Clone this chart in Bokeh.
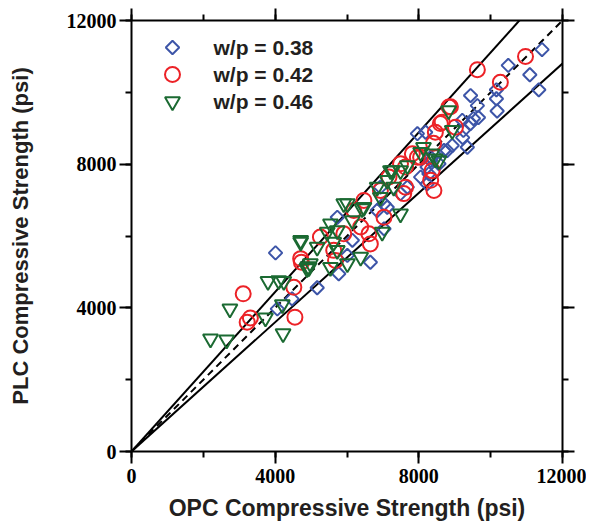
import math
from bokeh.plotting import figure
from bokeh.models import Range1d, LinearAxis, SingleIntervalTicker, Label
from bokeh.embed import file_html
from bokeh.resources import INLINE

# ---- data (psi) ----
blue_x = [11430, 10490, 11090, 11340, 9440, 10160, 10160, 10180, 9660, 9520, 9440, 9210,
          9240, 9220, 9350, 9630, 8930, 8790, 8560, 8330, 8280, 8190, 8050, 8230, 7960,
          8330, 8700, 8230, 7680, 7490, 7030, 6840, 5730, 6150, 6010, 5770, 4010, 4060,
          4470, 5170, 6930, 7120, 7030, 6650]
blue_y = [11190, 10750, 10490, 10070, 9910, 10070, 9820, 9480, 9300, 9270, 9130, 9220,
          8940, 8740, 8470, 9630, 8520, 8380, 8010, 8100, 7730, 8890, 7640, 7450, 8850,
          8190, 8380, 7920, 7360, 7180, 6900, 6710, 6520, 5880, 5460, 4950, 5530, 3970,
          4250, 4560, 7360, 6800, 6200, 5270]

red_x = [10970, 9630, 10270, 8880, 8600, 9020, 8410, 8650, 8460, 7820, 8050, 7490, 8370,
         8330, 8420, 7630, 7580, 7960, 7630, 7170, 6930, 6470, 6190, 6380, 6610, 5910,
         5630, 5680, 5260, 4710, 6650, 7030, 3110, 3220, 3310, 4550, 4520, 4730, 8840]
red_y = [11000, 10630, 10280, 9600, 9130, 9030, 8580, 9170, 8890, 8290, 8190, 8010, 7820,
         7550, 7270, 7360, 7180, 8190, 7920, 7640, 7270, 6990, 6710, 6250, 6060, 6060,
         5600, 5320, 5970, 5370, 5780, 6520, 4390, 3600, 3720, 3740, 4570, 5270, 9590]

green_x = [8830, 8930, 8130, 8460, 8050, 7260, 7490, 7680, 7120, 7300, 8370, 8560, 7210,
           6840, 6930, 7490, 5910, 6470, 5540, 5730, 4710, 5170, 4980, 5540, 6010, 6380,
           6010, 6420, 6150, 5630, 4710, 5730, 4890, 6980, 3800, 4100, 4240, 2740, 3730,
           4200, 4220, 2200, 2650, 4910, 4940, 5450]
green_y = [9490, 8940, 8470, 8150, 8330, 7820, 7820, 7960, 7550, 7360, 8290, 8100, 7820,
           7360, 7080, 6620, 6900, 6800, 6340, 6150, 5880, 5690, 5230, 5130, 5230, 5410,
           6900, 6760, 6430, 5830, 5830, 5600, 5090, 6110, 4740, 4760, 4740, 3970, 3720,
           4090, 3280, 3140, 3110, 5150, 5120, 6110]

series_labels = ["w/p = 0.38", "w/p = 0.42", "w/p = 0.46"]

# reference lines: equality and +/-10 % bounds
line_x = [0, 12000]
ratio_eq = 1.0
ratio_hi = 1 / 0.9
ratio_lo = 0.9

axis_ticks_interval = 4000
axis_max = 12000
tick_values = [0, 4000, 8000, 12000]

BLUE = "#3d55a8"
RED = "#ec2227"
GREEN = "#1b6a32"
TXT = "#231f20"

FW = 431
p = figure(frame_width=FW, frame_height=FW,
           min_border_left=131, min_border_right=24, min_border_top=20, min_border_bottom=68,
           x_range=Range1d(0, axis_max), y_range=Range1d(0, axis_max),
           output_backend="svg", toolbar_location=None,
           x_axis_label="OPC Compressive Strength (psi)",
           y_axis_label="PLC Compressive Strength (psi)")
p.grid.visible = False
p.outline_line_color = None
p.background_fill_color = "white"
p.border_fill_color = "white"

# extra axes for mirrored ticks
p.add_layout(LinearAxis(), "above")
p.add_layout(LinearAxis(), "right")

for ax in p.axis:
    ax.ticker = SingleIntervalTicker(interval=axis_ticks_interval, num_minor_ticks=2)
    ax.axis_line_width = 2
    ax.axis_line_color = "black"
    ax.major_tick_line_width = 2
    ax.minor_tick_line_width = 2
    ax.major_tick_in = 0
    ax.major_tick_out = 12
    ax.minor_tick_in = 0
    ax.minor_tick_out = 6
    ax.major_label_text_font = "Liberation Serif"
    ax.major_label_text_font_style = "bold"
    ax.major_label_text_font_size = "20px"
    ax.major_label_text_color = "black"
    ax.axis_label_text_font = "Liberation Sans"
    ax.axis_label_text_font_style = "bold"
    ax.axis_label_text_color = TXT

for ax in (p.above[0], p.right[0]):
    ax.major_label_overrides = {v: "" for v in tick_values}
    ax.major_label_text_font_size = "1px"
    ax.major_label_standoff = 0

xb = p.below[0]
yl = p.left[0]
xb.axis_label_text_font_size = "23px"
yl.axis_label_text_font_size = "22px"
xb.major_label_standoff = 5
xb.axis_label_standoff = 9
yl.major_label_standoff = 3
yl.axis_label_standoff = 31

# reference lines
p.line(line_x, [v * ratio_eq for v in line_x], line_color="black", line_width=2, line_dash="7 5")
p.line(line_x, [v * ratio_hi for v in line_x], line_color="black", line_width=2)
p.line(line_x, [v * ratio_lo for v in line_x], line_color="black", line_width=2)

styles = [
    dict(marker="square", angle=math.pi / 4, size=9.5, line_color=BLUE),
    dict(marker="circle", angle=0.0, size=15, line_color=RED),
    dict(marker="inverted_triangle", angle=0.0, size=15, line_color=GREEN),
]
for xs, ys, st in zip([blue_x, red_x, green_x], [blue_y, red_y, green_y], styles):
    p.scatter(xs, ys, fill_color=None, line_width=2, **st)

# legend (keys + labels placed by layout, in pixels from frame's top-left)
px2data = axis_max / FW
key_cx = 41
text_x = 82
row_cy = [27, 54, 81]
for lab, cy, st in zip(series_labels, row_cy, styles):
    p.scatter([key_cx * px2data], [axis_max - cy * px2data], fill_color=None,
              line_width=2, **st)
    p.add_layout(Label(x=text_x * px2data, y=axis_max - cy * px2data, text=lab,
                       text_font="Liberation Sans", text_font_style="bold",
                       text_font_size="21px", text_color=TXT,
                       text_baseline="middle", text_align="left"))

open("out.html", "w").write(file_html(p, INLINE))
